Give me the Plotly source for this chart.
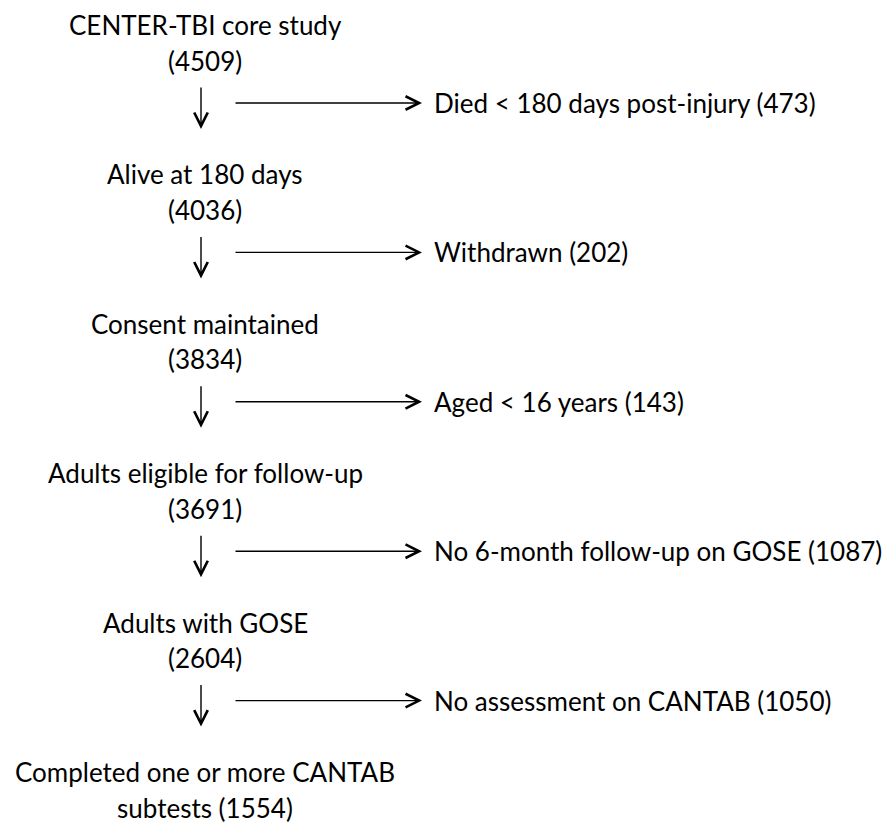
import plotly.graph_objects as go

# ---- data ----
stage_labels = ["CENTER-TBI core study", "Alive at 180 days", "Consent maintained",
                "Adults eligible for follow-up", "Adults with GOSE",
                "Completed one or more CANTAB"]
stage_count_prefix = ["", "", "", "", "", "subtests "]
stage_counts = [4509, 4036, 3834, 3691, 2604, 1554]
exclusion_labels = ["Died < 180 days post-injury", "Withdrawn", "Aged < 16 years",
                    "No 6-month follow-up on GOSE", "No assessment on CANTAB"]
exclusion_counts = [473, 202, 143, 1087, 1050]

# ---- layout constants ----
W, H = 888, 823
FONT = "Lato"
FS = 26
TOP = 25
STEP = 149.4
LINE2 = 35.5
CX = 205
ARROW_X = 201
H_X0, H_X1, TXT_X = 234, 422, 432

fig = go.Figure()
fig.add_trace(go.Scatter(x=[0, W], y=[0, H], mode="markers",
                         marker=dict(opacity=0), hoverinfo="skip", showlegend=False))

ann = []
for i, (lab, pre, cnt) in enumerate(zip(stage_labels, stage_count_prefix, stage_counts)):
    y0 = TOP + STEP * i
    ann.append(dict(x=CX, y=y0, text=lab, showarrow=False, xanchor="center", yanchor="middle"))
    ann.append(dict(x=CX, y=y0 + LINE2, text=f"{pre}({cnt})", showarrow=False,
                    xanchor="center", yanchor="middle"))

for i, (lab, cnt) in enumerate(zip(exclusion_labels, exclusion_counts)):
    y0 = TOP + STEP * i
    # downward arrow
    ann.append(dict(x=ARROW_X, y=y0 + 104, ax=ARROW_X, ay=y0 + 61, axref="x", ayref="y",
                    text="", showarrow=True, arrowhead=5, arrowsize=1.9, arrowwidth=1.4,
                    arrowcolor="black", standoff=0, startstandoff=0))
    # horizontal arrow
    yh = y0 + 78
    ann.append(dict(x=H_X1, y=yh, ax=H_X0, ay=yh, axref="x", ayref="y",
                    text="", showarrow=True, arrowhead=5, arrowsize=1.9, arrowwidth=1.4,
                    arrowcolor="black", standoff=0, startstandoff=0))
    ann.append(dict(x=TXT_X, y=yh, text=f"{lab} ({cnt})", showarrow=False,
                    xanchor="left", yanchor="middle"))

for a in ann:
    a.setdefault("xref", "x")
    a.setdefault("yref", "y")
    a["font"] = dict(family=FONT, size=FS, color="black")

fig.update_layout(
    width=W, height=H, margin=dict(l=0, r=0, t=0, b=0),
    paper_bgcolor="white", plot_bgcolor="white",
    xaxis=dict(range=[0, W], visible=False, fixedrange=True),
    yaxis=dict(range=[H, 0], visible=False, fixedrange=True),
    annotations=ann, showlegend=False,
)
fig.write_html("out.html", config={"displayModeBar": False},
               post_script="document.body.style.margin='0';document.body.style.overflow='hidden';")
